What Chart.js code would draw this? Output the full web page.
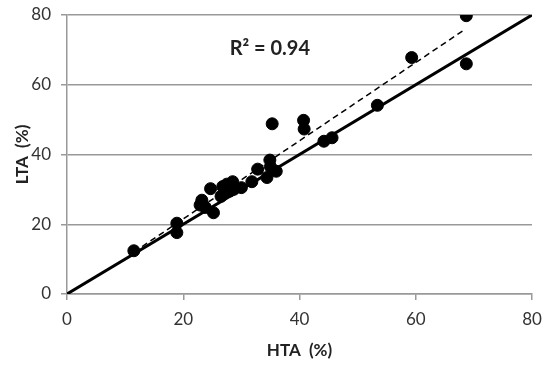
<!DOCTYPE html>
<html><head><meta charset="utf-8">
<script src="https://cdn.jsdelivr.net/npm/chart.js@4/dist/chart.umd.min.js"></script>
<style>html,body{margin:0;padding:0;background:#fff}#wrap{width:550px;height:365px}</style>
</head><body><div id="wrap"><canvas id="c" width="550" height="365"></canvas></div>
<script>
const htaValues = [11.5,18.9,18.9,22.9,23.2,23.8,24.7,25.2,26.5,26.8,27.5,28.0,28.5,28.7,30.0,31.8,32.8,34.4,34.9,35.0,36.0,35.3,40.7,40.8,44.2,45.6,53.4,59.3,68.7,68.7];
const ltaValues = [12.4,20.3,17.6,25.5,26.9,24.8,30.2,23.3,28.0,30.8,31.5,29.5,32.2,30.0,30.5,32.2,35.8,33.4,38.4,36.5,35.2,48.8,49.8,47.3,43.8,44.8,54.1,67.8,66.0,79.8];
const identityLine = [{x:0,y:0},{x:80,y:80}];
const regressionLine = [{x:11.5,y:12.0},{x:68.5,y:75.9}];
const axisTicks = [0,20,40,60,80];
const r2Label = "R\u00B2 = 0.94";

const points = htaValues.map((x,i)=>({x, y: ltaValues[i]}));
const FONT = "Lato, 'Open Sans', sans-serif";

const annot = {
  id:'annot',
  afterDatasetsDraw(chart){
    const {ctx, scales:{x,y}} = chart;
    ctx.save();
    ctx.font = "bold 20px " + FONT;
    ctx.fillStyle = "#222";
    ctx.textAlign = "center";
    ctx.textBaseline = "middle";
    ctx.fillText(r2Label, x.getPixelForValue(34.9), y.getPixelForValue(70.5));
    ctx.restore();
  }
};

new Chart(document.getElementById('c'), {
  type:'scatter',
  data:{datasets:[
    {data:points, backgroundColor:'#000', borderColor:'#000', pointRadius:6, pointHoverRadius:6, order:0},
    {type:'line', data:identityLine, borderColor:'#000', borderWidth:3, pointRadius:0, fill:false, order:1},
    {type:'line', data:regressionLine, borderColor:'#000', borderWidth:1.5, borderDash:[6,4], pointRadius:0, fill:false, order:2}
  ]},
  options:{
    responsive:false, animation:false,
    layout:{padding:{left:10,right:18,top:15,bottom:0}},
    plugins:{legend:{display:false}, tooltip:{enabled:false}},
    scales:{
      x:{type:'linear', min:0, max:80,
        afterBuildTicks(s){ s.ticks = axisTicks.map(v=>({value:v})); },
        afterFit(s){ s.height = 71; s.paddingLeft = 0; s.paddingRight = 0; },
        grid:{drawOnChartArea:false, drawTicks:true, tickLength:6, color:'#999', lineWidth:1.5},
        border:{color:'#999', width:1.5},
        ticks:{color:'#333', font:{family:FONT, size:17}, padding:9},
        title:{display:true, text:'HTA  (%)', color:'#222', font:{family:FONT, size:17, weight:'bold'}, padding:{top:0}}
      },
      y:{type:'linear', min:0, max:80,
        afterBuildTicks(s){ s.ticks = axisTicks.map(v=>({value:v})); },
        afterFit(s){ s.width = 57; s.paddingTop = 0; s.paddingBottom = 0; },
        grid:{drawTicks:true, tickLength:6, color:'#999', lineWidth:1.5},
        border:{color:'#999', width:1.5},
        ticks:{color:'#333', font:{family:FONT, size:17}, padding:10},
        title:{display:true, text:'LTA  (%)', color:'#222', font:{family:FONT, size:17, weight:'bold'}, padding:{top:2,bottom:4}}
      }
    }
  },
  plugins:[annot]
});
</script></body></html>
